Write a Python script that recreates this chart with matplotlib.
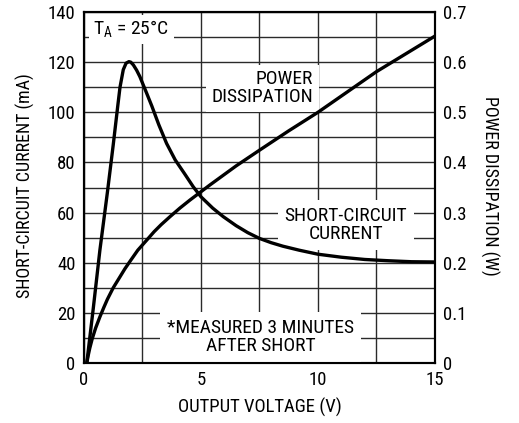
import numpy as np
import matplotlib
matplotlib.use("Agg")
import matplotlib.pyplot as plt
from matplotlib import font_manager

# data
current_v = [0.12, 0.4, 0.68, 1.0, 1.25, 1.45, 1.54, 1.68, 1.8, 1.92, 2.0, 2.11, 2.25, 2.39, 2.53,
             2.68, 2.9, 3.2, 3.53, 3.9, 4.3, 4.67, 5.0, 5.5, 5.95, 6.5, 7.0, 7.5, 8.0, 8.5, 9.2,
             10.0, 11.0, 12.0, 13.0, 14.0, 15.0]
current_ma = [0, 22, 45, 68, 87, 103, 110, 117, 119.6, 120.2, 120, 118.9, 116.8, 114.2, 111,
              107.6, 102.5, 95, 87.6, 81, 75.5, 70.3, 66.3, 61.8, 58.4, 54.8, 52, 49.7, 48, 46.6, 45,
              43.4, 42.2, 41.3, 40.8, 40.4, 40.3]
power_v = [0.12, 0.18, 0.25, 0.35, 0.5, 0.68, 0.85, 1.0, 1.25, 1.54, 1.75, 2.0, 2.3, 2.68, 3.0,
           3.3, 3.68, 4.1, 4.53, 5.38, 6.5, 7.52, 8.75, 10.0, 12.5, 15.0]
power_w = [0, 0.015, 0.03, 0.048, 0.07, 0.092, 0.111, 0.127, 0.15, 0.172, 0.188, 0.205, 0.225,
           0.245, 0.262, 0.276, 0.292, 0.309, 0.325, 0.355, 0.393, 0.425, 0.463, 0.5, 0.581, 0.652]
right_labels = ["0", "0.1", "0.2", "0.3", "0.4", "0.5", "0.6", "0.7"]

names = set(f.name for f in font_manager.fontManager.ttflist)
family = ["DejaVu Sans"]
for cand in ["Liberation Sans Narrow", "Roboto Condensed", "Open Sans Condensed", "DejaVu Sans Condensed"]:
    if cand in names:
        family = [cand, "DejaVu Sans"]
        break
plt.rcParams["font.family"] = family

fig = plt.figure(figsize=(5.19, 4.23), dpi=100)
ax = fig.add_axes([0.1618, 0.1418, 0.838 - 0.1618, 0.9716 - 0.1418])
ax.set_xlim(0, 15)
ax.set_ylim(0, 140)
ax.set_xticks([0, 5, 10, 15])
ax.set_xticks([2.5, 7.5, 12.5], minor=True)
ax.set_yticks(np.arange(0, 141, 20))
ax.set_yticks(np.arange(10, 140, 20), minor=True)
ax.grid(True, which="both", color="#2a2a2a", lw=1.0)
ax.tick_params(which="both", length=0, labelsize=13.5, pad=6)
for s in ax.spines.values():
    s.set_linewidth(1.5)
ax.set_xlabel("OUTPUT VOLTAGE (V)", fontsize=13.5, labelpad=6)
ax.set_ylabel("SHORT-CIRCUIT CURRENT (mA)", fontsize=13, va="center")
ax.yaxis.set_label_coords(-0.168, 0.506)

ax.plot(current_v, current_ma, color="black", lw=2.4, solid_joinstyle="round", zorder=5)

ax.text(0.4, 133, "T$_\\mathregular{A}$ = 25°C ", fontsize=14, ha="left", va="center",
        bbox=dict(facecolor="white", edgecolor="none", pad=3), zorder=4)
ax.text(9.8, 109.5, "POWER\nDISSIPATION", fontsize=14, ha="right", va="center",
        linespacing=1.0, bbox=dict(facecolor="white", edgecolor="none", pad=4), zorder=4)
ax.text(11.2, 55, "SHORT-CIRCUIT\nCURRENT", fontsize=14, ha="center", va="center",
        linespacing=1.0, bbox=dict(facecolor="white", edgecolor="none", pad=5), zorder=4)
ax.text(7.55, 10.5, "*MEASURED 3 MINUTES\nAFTER SHORT", fontsize=14, ha="center", va="center",
        linespacing=1.0, bbox=dict(facecolor="white", edgecolor="none", pad=5), zorder=4)

ax2 = ax.twinx()
ax2.set_ylim(0, 0.7)
ax2.set_yticks(np.arange(0, 0.71, 0.1))
ax2.set_yticklabels(right_labels)
ax2.tick_params(length=0, labelsize=13.5, pad=6)
for s in ax2.spines.values():
    s.set_linewidth(1.5)
ax2.set_ylabel("POWER DISSIPATION (W)", fontsize=13, rotation=-90, va="center")
ax2.yaxis.set_label_coords(1.157, 0.506)
ax2.plot(power_v, power_w, color="black", lw=2.4, solid_joinstyle="round")

fig.savefig("out.png", dpi=100)
